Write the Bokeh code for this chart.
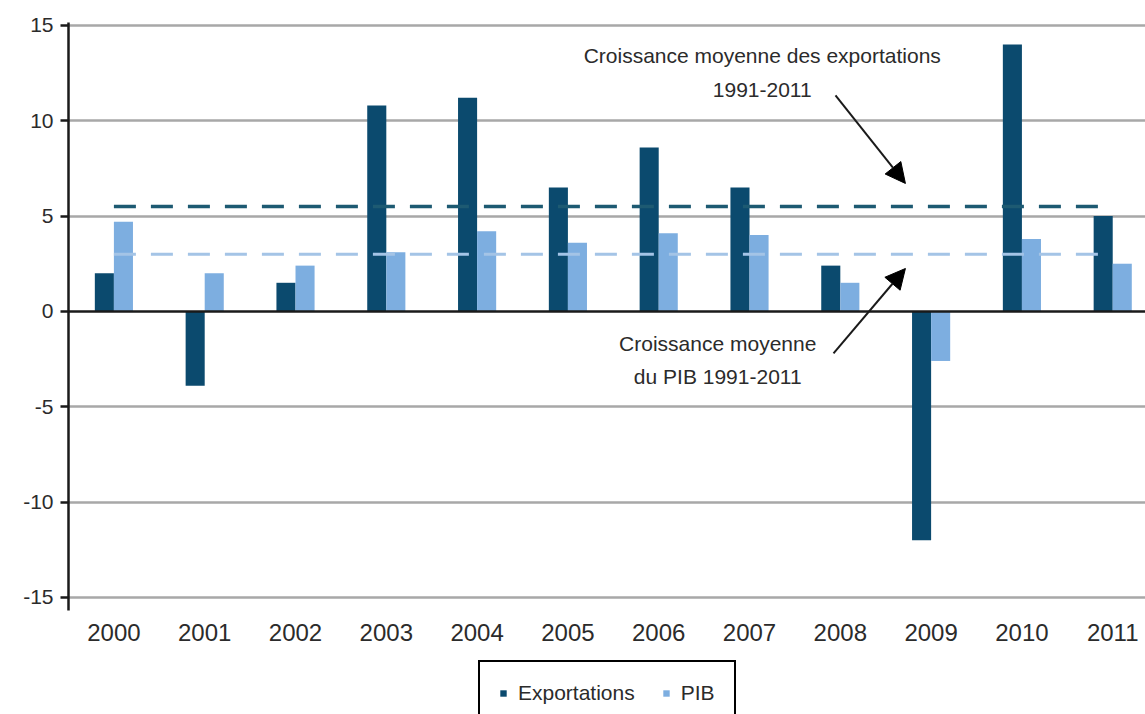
from bokeh.plotting import figure
from bokeh.models import (ColumnDataSource, Range1d, FixedTicker, Span, Label,
                          Arrow, NormalHead, Legend, LegendItem)
from bokeh.core.properties import value
from bokeh.transform import dodge
from bokeh.embed import file_html
from bokeh.resources import INLINE

# ---- data ----
years = ["2000", "2001", "2002", "2003", "2004", "2005",
         "2006", "2007", "2008", "2009", "2010", "2011"]
exportations = [2.0, -3.9, 1.5, 10.8, 11.2, 6.5, 8.6, 6.5, 2.4, -12.0, 14.0, 5.0]
pib = [4.7, 2.0, 2.4, 3.1, 4.2, 3.6, 4.1, 4.0, 1.5, -2.6, 3.8, 2.5]
moy_export = 5.5   # croissance moyenne des exportations 1991-2011
moy_pib = 3.0      # croissance moyenne du PIB 1991-2011
y_ticks = [-15, -10, -5, 0, 5, 10, 15]
y_tick_labels = ["-15", "-10", "-5", "0", "5", "10", "15"]

DARK = "#0b4a6e"
LIGHT = "#7daee0"
FONT = "Liberation Sans"
TXT = "#2b2b2b"

Y_MIN, Y_MAX = -15.68, 15.15      # extent of the drawn value axis
LABEL_Y = -16.83                  # row of the year labels (below the axis)

idx = list(range(len(years)))
src = ColumnDataSource(dict(x=idx, exp=exportations, pib=pib,
                            year=years, ly=[LABEL_Y] * len(years)))

p = figure(width=1145, height=714, output_backend="svg", toolbar_location=None,
           x_range=Range1d(-0.5, 11.361), y_range=Range1d(-21.14, Y_MAX),
           min_border_left=68, min_border_right=0, min_border_top=22,
           min_border_bottom=0)
p.outline_line_color = None
p.background_fill_color = "white"

bw = 0.21
r_exp = p.vbar(x=dodge("x", -bw / 2), top="exp", bottom=0, width=bw, source=src,
               fill_color=DARK, line_color=None)
r_pib = p.vbar(x=dodge("x", bw / 2), top="pib", bottom=0, width=bw, source=src,
               fill_color=LIGHT, line_color=None)

# zero line
p.add_layout(Span(location=0, dimension="width", line_color="#1a1a1a", line_width=2.5))

# average dashed lines
p.line(x=[idx[0], idx[-1]], y=[moy_export, moy_export], line_color="#1d5a72",
       line_width=3.5, line_dash="22 15")
p.line(x=[idx[0], idx[-1]], y=[moy_pib, moy_pib], line_color="#a4c4e6",
       line_width=3, line_dash="22 15")

# category labels under the chart
p.text(x="x", y="ly", text="year", source=src, text_align="center",
       text_baseline="middle", text_font=value(FONT), text_font_size="24px",
       text_color=TXT)

# axes
p.xaxis.visible = False
p.yaxis.ticker = FixedTicker(ticks=y_ticks)
p.yaxis.major_label_overrides = dict(zip(y_ticks, y_tick_labels))
p.yaxis.bounds = (Y_MIN, Y_MAX)
p.yaxis.axis_line_color = "#1a1a1a"
p.yaxis.axis_line_width = 2.5
p.yaxis.major_tick_line_color = "#1a1a1a"
p.yaxis.major_tick_line_width = 2.5
p.yaxis.major_tick_out = 8
p.yaxis.major_tick_in = 0
p.yaxis.minor_tick_line_color = None
p.yaxis.major_label_standoff = 7
p.yaxis.major_label_text_font = FONT
p.yaxis.major_label_text_font_size = "21px"
p.yaxis.major_label_text_color = TXT

p.xgrid.grid_line_color = None
p.ygrid.ticker = FixedTicker(ticks=[t for t in y_ticks if t != 0])
p.ygrid.grid_line_color = "#a8a8a8"
p.ygrid.grid_line_width = 2.5
p.ygrid.level = "underlay"

# annotations
for txt, xx, yy in [("Croissance moyenne des exportations", 7.14, 13.42),
                    ("1991-2011", 7.14, 11.59),
                    ("Croissance moyenne", 6.65, -1.68),
                    ("du PIB 1991-2011", 6.65, -3.41)]:
    p.add_layout(Label(x=xx, y=yy, text=txt, text_align="center",
                       text_baseline="middle", text_font=FONT,
                       text_font_size="21px", text_color=TXT))

for xs, ys, xe, ye in [(7.947, 11.33, 8.717, 6.71), (7.925, -2.20, 8.717, 2.25)]:
    p.add_layout(Arrow(x_start=xs, y_start=ys, x_end=xe, y_end=ye,
                       line_color="#1a1a1a", line_width=2,
                       end=NormalHead(size=20, fill_color="black",
                                      line_color="black")))

legend = Legend(items=[LegendItem(label="Exportations", renderers=[r_exp]),
                       LegendItem(label="PIB", renderers=[r_pib])],
                orientation="horizontal", location=(410, -12),
                label_text_font=FONT, label_text_font_size="21px",
                label_text_color=TXT, glyph_width=8, glyph_height=8,
                label_standoff=11, spacing=27, padding=19, margin=0,
                border_line_color="#000000", border_line_width=2,
                border_line_alpha=1.0,
                background_fill_color="white", background_fill_alpha=1)
p.add_layout(legend, "center")

open("out.html", "w").write(file_html(p, INLINE))
